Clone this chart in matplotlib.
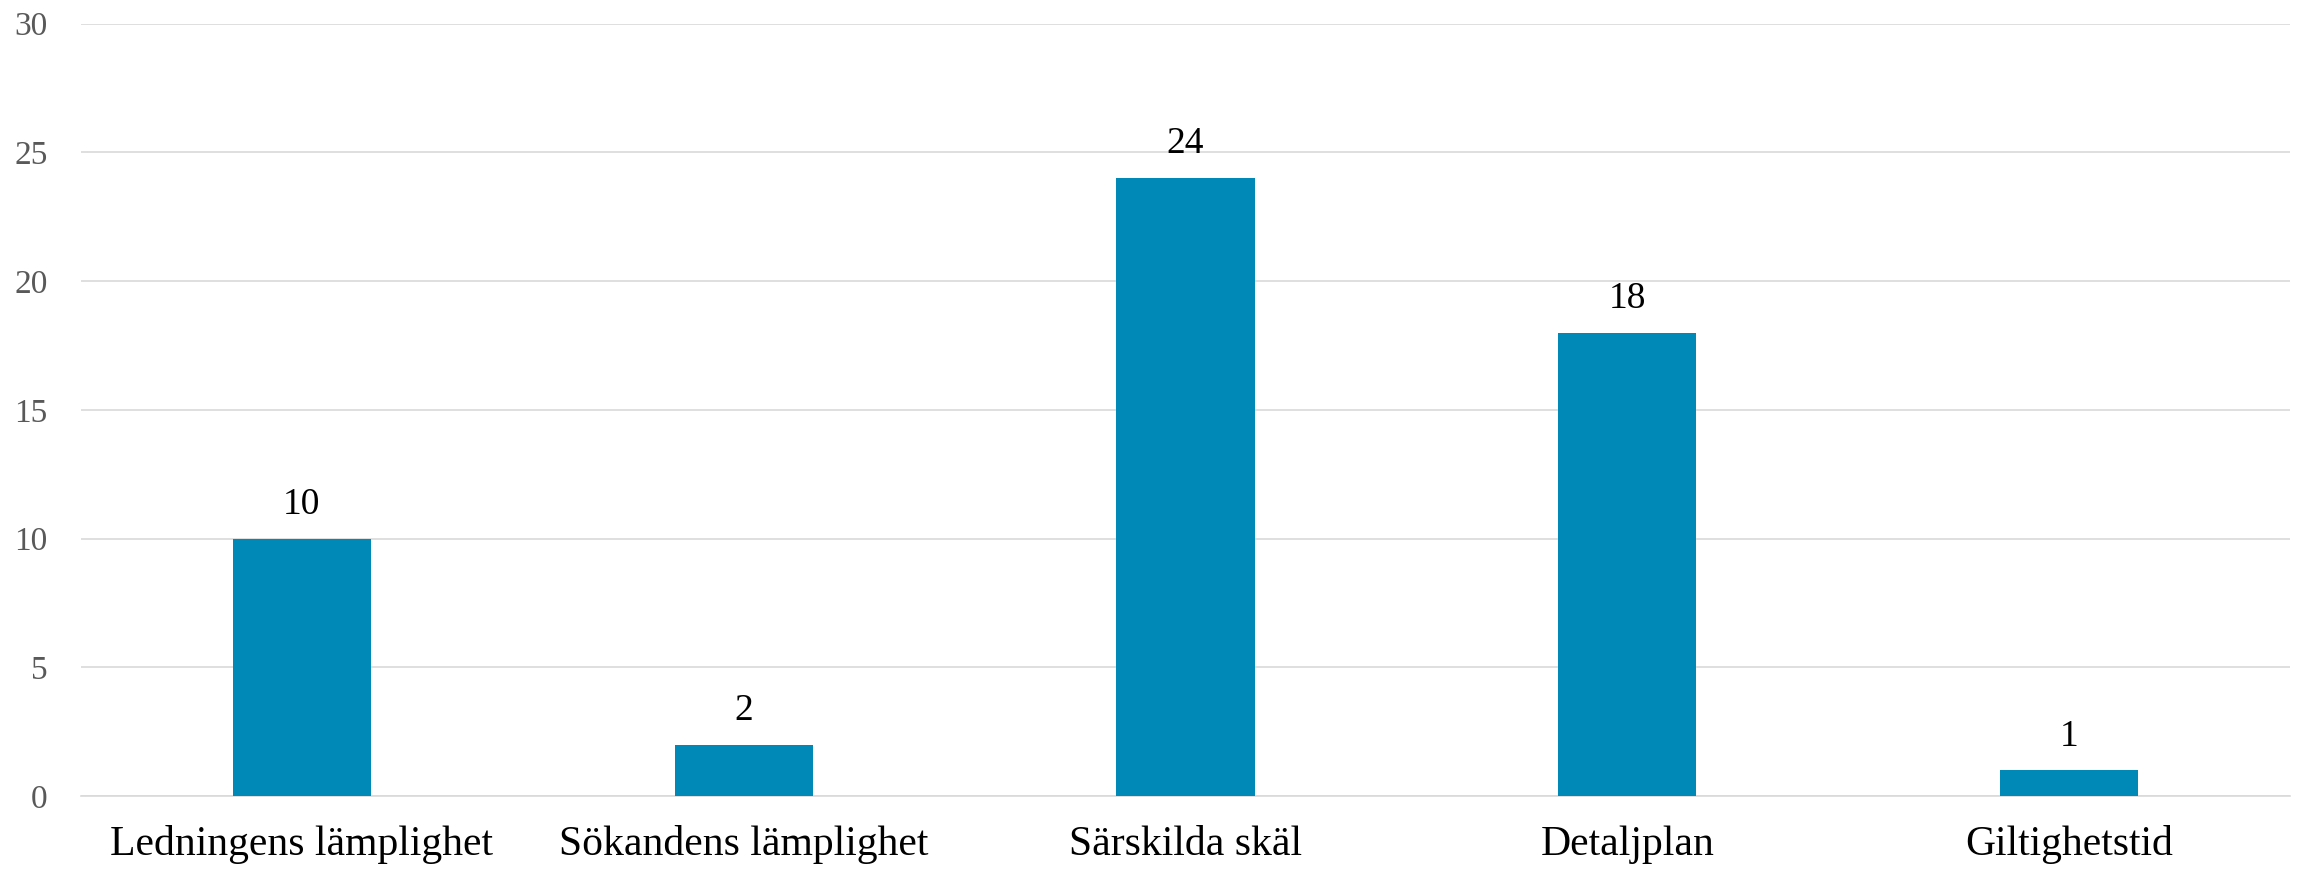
import matplotlib
matplotlib.use("Agg")
import matplotlib.pyplot as plt

categories = ["Ledningens lämplighet", "Sökandens lämplighet", "Särskilda skäl", "Detaljplan", "Giltighetstid"]
values = [10, 2, 24, 18, 1]
yticks = [0, 5, 10, 15, 20, 25, 30]

plt.rcParams['font.family'] = ['Liberation Serif', 'DejaVu Serif']

W, H = 2303, 873
fig = plt.figure(figsize=(W / 100, H / 100), dpi=100)
left, right, top, bottom = 81, 2290, 23.5, 796
ax = fig.add_axes([left / W, (H - bottom) / H, (right - left) / W, (bottom - top) / H])

x = list(range(len(categories)))
bars = ax.bar(x, values, width=0.313, color="#0089B6", zorder=3)
ax.set_xlim(-0.5, len(categories) - 0.5)
ax.set_ylim(0, 30)
ax.set_yticks(yticks)
ax.set_yticklabels([str(t) for t in yticks], fontsize=24, color="#595959")
ax.set_xticks(x)
ax.set_xticklabels(categories, fontsize=30, color="black")
ax.tick_params(axis='y', length=0, pad=24)
ax.tick_params(axis='x', length=0, pad=21)
ax.grid(axis='y', color="#D9D9D9", linewidth=1.2, zorder=0)
for s in ["top", "right", "left"]:
    ax.spines[s].set_visible(False)
ax.spines["bottom"].set_color("#D9D9D9")
ax.spines["bottom"].set_linewidth(1.2)

for xi, v in zip(x, values):
    ax.annotate(str(v), (xi, v), xytext=(0, 12), textcoords="offset points",
                ha="center", va="bottom", fontsize=27, color="black")

fig.savefig("out.png", dpi=100)
